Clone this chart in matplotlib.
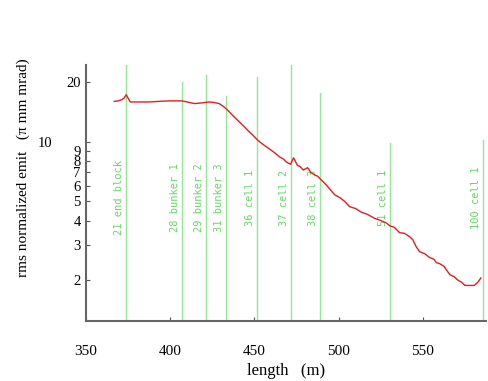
import numpy as np
import matplotlib
matplotlib.use("Agg")
import matplotlib.pyplot as plt

# emittance along the line
length = [366.7, 369.0, 371.0, 372.5, 373.8, 375.0, 376.2, 380.0, 387.5, 393.0, 399.4,
          404.0, 407.0, 410.0, 414.3, 418.0, 423.2, 426.0, 429.0, 431.5, 433.9,
          437.0, 441.0, 444.0, 447.0, 449.5, 451.8, 455.0, 458.9, 462.0, 464.8,
          467.0, 469.0, 471.4, 473.2, 475.5, 477.0, 479.0, 481.5, 483.5, 485.7,
          487.5, 489.8, 493.0, 497.6, 501.0, 503.5, 506.5, 510.0, 513.6, 517.0,
          521.4, 525.0, 528.0, 530.4, 533.0, 536.2, 539.0, 542.2, 544.0, 546.0,
          548.1, 551.0, 554.0, 556.5, 558.0, 560.0, 562.5, 564.0, 566.0, 568.5,
          570.7, 573.0, 574.9, 577.9, 580.5, 582.6, 584.4]
emit = [16.0, 16.1, 16.3, 16.6, 17.3, 16.6, 15.9, 15.9, 15.9, 16.0, 16.1,
        16.1, 16.1, 15.9, 15.6, 15.7, 15.9, 15.8, 15.6, 15.1, 14.5,
        13.6, 12.6, 11.9, 11.2, 10.7, 10.2, 9.7, 9.2, 8.8, 8.4,
        8.2, 7.9, 7.7, 8.3, 7.6, 7.5, 7.2, 7.4, 7.0, 6.8,
        6.7, 6.4, 6.0, 5.4, 5.2, 5.0, 4.7, 4.6, 4.4, 4.3,
        4.1, 4.0, 3.9, 3.76, 3.7, 3.47, 3.45, 3.31, 3.2, 2.95,
        2.78, 2.72, 2.6, 2.55, 2.45, 2.42, 2.35, 2.25, 2.13, 2.08,
        2.0, 1.95, 1.88, 1.88, 1.88, 1.95, 2.05]

# element markers
marker_pos = [373.8, 407.0, 421.4, 433.3, 451.2, 471.4, 488.7, 530.4, 585.7]
marker_top = [24.4, 20.0, 21.8, 17.0, 21.3, 24.4, 17.7, 9.9, 10.2]
marker_names = ["21 end block", "28 bunker 1", "29 bunker 2", "31 bunker 3",
                "36 cell 1", "37 cell 2", "38 cell 3", "51 cell 1", "100 cell 1"]

yticks = [2, 3, 4, 5, 6, 7, 8, 9, 10, 20]
xticks = [350, 400, 450, 500, 550]

serif = ["Liberation Serif", "DejaVu Serif"]

fig = plt.figure(figsize=(4.89, 3.81), dpi=100)
ax = fig.add_axes([0.176, 0.157, 0.818, 0.672])

ymin, ymax = 1.24, 24.4
green = "#97e697"
for x, top, name in zip(marker_pos, marker_top, marker_names):
    ax.plot([x, x], [ymin, top], color=green, lw=1.0, zorder=1)
    ax.annotate(name, xy=(x, 5.2), xytext=(-5, 0), textcoords="offset points",
                rotation=90, ha="center", va="center", fontsize=7.5,
                family="DejaVu Sans Mono", color="#66d866", zorder=2)

ax.plot(length, emit, color="#e02020", lw=1.0, zorder=3)

ax.set_yscale("log")
ax.set_xlim(350, 587.5)
ax.set_ylim(ymin, ymax)
ax.set_yticks(yticks)
ax.set_yticklabels([str(v) for v in yticks], family=serif, fontsize=10.5)
ax.yaxis.set_minor_locator(matplotlib.ticker.NullLocator())
ax.set_xticks(xticks)
ax.set_xticklabels([str(v) for v in xticks], family=serif, fontsize=11)
ax.tick_params(direction="in", length=3, color="#555555", width=0.8)
ax.tick_params(axis="x", pad=17)
ax.tick_params(axis="y", pad=4)
# the "10" label sits further out
for t, v in zip(ax.yaxis.get_major_ticks(), yticks):
    if v == 10:
        t.set_pad(24)

for s in ["top", "right"]:
    ax.spines[s].set_visible(False)
for s in ["left", "bottom"]:
    ax.spines[s].set_color("#666666")
    ax.spines[s].set_linewidth(1.5)

ax.set_xlabel("length   (m)", family=serif, fontsize=12, labelpad=4)
ax.set_ylabel("rms normalized emit   (π mm mrad)", family=serif, fontsize=11)
ax.yaxis.set_label_coords(-0.14, 0.6)

fig.savefig("out.png", dpi=100)
